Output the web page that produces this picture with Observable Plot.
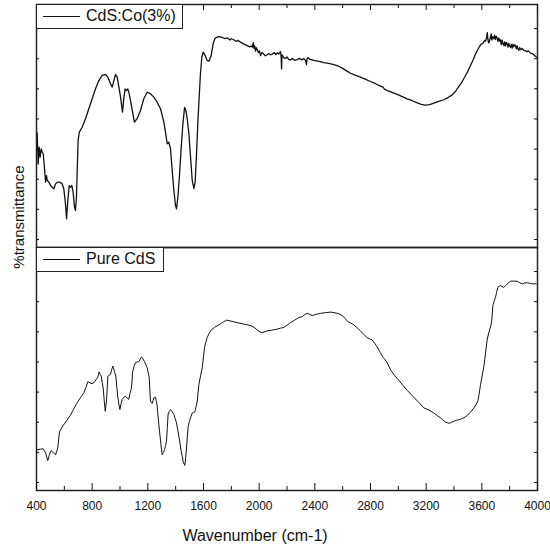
<!DOCTYPE html>
<html><head><meta charset="utf-8">
<script src="https://cdn.jsdelivr.net/npm/d3@7"></script>
<script src="https://cdn.jsdelivr.net/npm/@observablehq/plot@0.6"></script>
<style>
body{margin:0;background:#fff;}
#wrap{position:relative;width:550px;height:548px;font-family:"Liberation Sans",Arial,sans-serif;color:#111;}
.leg{position:absolute;left:36px;height:25px;box-sizing:border-box;border:1px solid #222;background:#fff;font-size:16px;}
.leg .ln{position:absolute;left:6px;top:11px;width:37px;border-top:1px solid #111;}
.leg .tx{position:absolute;left:49px;top:1px;white-space:nowrap;line-height:20px;}
#ylab{position:absolute;left:18px;top:217px;transform:translate(-50%,-50%) rotate(-90deg);font-size:15px;white-space:nowrap;}
#xlab{position:absolute;left:255px;top:526px;transform:translateX(-50%);font-size:16px;line-height:20px;white-space:nowrap;}
</style></head>
<body>
<div id="wrap"></div>
<script>
const seriesNames = ["CdS:Co(3%)", "Pure CdS"];

const coWn = [400,405,412,419,426,434,441,448,457,465,472,477,489,501,513,525,537,549,568,584,596,608,616,625,635,644,654,663,673,680,687,699,707,728,752,776,800,824,848,872,896,913,932,944,956,968,980,992,1004,1018,1028,1037,1047,1056,1066,1080,1095,1104,1123,1147,1171,1195,1219,1243,1267,1291,1315,1327,1339,1351,1363,1375,1387,1399,1406,1416,1428,1440,1452,1464,1473,1483,1495,1507,1519,1531,1540,1550,1559,1569,1578,1588,1598,1612,1626,1641,1655,1669,1681,1693,1710,1734,1752,1770,1790,1800,1818,1835,1850,1866,1880,1895,1914,1930,1945,1950,1958,1962,1968,1974,1980,1986,1995,2002,2010,2020,2034,2045,2058,2070,2082,2094,2110,2120,2130,2140,2153,2158,2161,2164,2168,2178,2189,2200,2212,2225,2240,2255,2273,2290,2305,2321,2333,2340,2344,2350,2365,2393,2430,2465,2500,2537,2570,2597,2625,2656,2690,2728,2765,2800,2836,2872,2890,2900,2920,2955,2992,3028,3064,3100,3136,3165,3195,3225,3255,3290,3327,3360,3387,3410,3435,3460,3483,3500,3519,3537,3555,3572,3591,3610,3620,3627,3634,3639,3644,3648,3653,3660,3667,3672,3678,3686,3692,3698,3704,3710,3716,3722,3728,3734,3740,3746,3752,3758,3764,3770,3776,3782,3788,3794,3800,3806,3812,3818,3824,3830,3836,3842,3848,3854,3860,3866,3872,3880,3890,3902,3915,3925,3935,3950,3965,3975,3986,4000];
const coT = [47.5,46.8,34.4,41.3,37.2,40.6,39.2,38.6,33.0,26.9,29.6,27.6,26.9,25.5,24.8,24.2,26.2,26.9,26.9,26.2,24.2,18.0,11.8,19.3,25.5,24.8,25.5,22.8,16.6,15.2,20.7,44.0,47.4,49.5,53.0,57.1,61.2,65.3,68.7,70.8,71.2,70.1,67.4,66.0,68.7,71.2,70.1,66.0,61.9,55.7,61.9,65.3,64.6,65.3,63.3,59.1,54.3,51.6,53.0,56.4,61.2,63.9,63.3,61.9,59.8,57.1,51.6,47.4,42.7,43.3,40.6,31.7,23.5,17.3,15.9,20.7,30.3,41.3,50.9,57.7,56.4,53.0,46.8,37.2,27.6,24.2,26.9,38.6,50.9,61.9,71.5,78.3,80.4,79.0,77.0,76.7,79.0,83.8,85.9,86.5,86.8,86.5,86.0,86.3,85.4,85.9,85.5,84.8,85.2,84.5,84.0,83.6,83.1,82.6,82.9,82.4,84.3,82.0,83.0,80.8,82.2,81.5,80.2,80.9,79.0,80.2,79.5,78.9,79.3,79.8,79.3,79.6,80.2,79.4,80.1,79.6,80.6,78.5,73.5,79.3,79.0,78.0,77.8,78.4,77.4,77.2,77.8,77.0,77.3,77.9,77.2,77.7,77.0,75.3,77.6,78.2,77.4,77.0,76.6,76.1,75.8,75.3,74.6,73.8,72.8,71.7,70.9,70.1,69.2,68.3,67.4,66.4,66.0,65.2,64.6,63.8,63.0,62.1,61.2,60.4,59.5,58.9,58.6,58.8,59.4,60.1,60.8,61.8,62.8,64.2,66.3,68.4,70.8,72.6,74.9,77.2,79.7,81.6,83.4,84.2,85.2,84.9,86.3,88.4,85.5,84.2,84.5,86.0,87.9,85.4,86.8,85.9,87.4,85.6,86.9,86.3,84.8,86.2,84.9,85.5,83.5,85.3,83.8,83.1,84.6,82.9,84.4,83.8,82.5,84.0,82.9,82.4,83.6,82.1,83.7,82.6,83.4,83.1,81.8,83.0,81.6,81.1,82.3,81.4,81.9,81.1,80.9,80.6,80.9,80.0,79.7,79.2,78.6,78.3];

const pureWn = [400,405,430,448,465,481,493,505,520,537,553,565,580,596,620,644,668,692,716,740,755,769,785,800,815,829,840,850,857,865,872,879,887,894,903,908,913,922,932,940,949,960,970,978,985,992,999,1008,1016,1028,1040,1052,1063,1072,1080,1086,1090,1100,1111,1125,1135,1145,1155,1165,1176,1185,1195,1203,1210,1215,1219,1225,1231,1237,1243,1255,1262,1267,1275,1284,1293,1303,1312,1320,1327,1334,1340,1346,1355,1363,1375,1387,1397,1406,1415,1423,1432,1440,1447,1454,1460,1466,1472,1478,1484,1490,1498,1507,1519,1528,1538,1547,1555,1561,1567,1580,1591,1600,1607,1617,1626,1640,1655,1680,1710,1738,1765,1790,1818,1855,1890,1920,1950,1968,1986,2005,2022,2040,2058,2082,2110,2130,2153,2177,2200,2225,2255,2285,2309,2327,2345,2363,2381,2410,2441,2477,2513,2537,2561,2580,2597,2617,2637,2658,2680,2705,2728,2752,2776,2795,2812,2830,2848,2870,2891,2905,2920,2935,2949,2975,3004,3034,3064,3094,3124,3154,3183,3220,3255,3280,3303,3320,3339,3355,3370,3385,3399,3418,3435,3453,3471,3490,3507,3525,3543,3558,3571,3580,3591,3603,3615,3621,3627,3633,3639,3648,3658,3664,3670,3675,3679,3688,3698,3706,3715,3724,3734,3745,3758,3772,3787,3806,3830,3854,3872,3890,3908,3926,3950,3974,3990];
const pureT = [17.0,16.8,17.0,17.2,15.5,12.3,14.8,16.4,15.6,14.7,17.5,24.1,25.7,27.1,29.0,31.0,33.6,36.1,38.2,40.2,42.3,44.8,44.3,43.9,44.5,45.7,46.6,48.8,47.8,47.1,44.5,42.3,36.8,32.6,36.8,42.0,47.1,47.4,47.8,49.8,51.2,49.0,47.1,42.0,38.1,35.5,33.3,35.8,37.5,38.4,38.8,38.0,37.5,40.0,41.6,44.5,48.5,51.0,52.6,52.9,53.0,54.0,55.0,54.2,53.0,51.8,50.5,48.5,46.4,41.0,36.8,36.2,35.8,37.0,38.1,38.4,36.5,34.7,29.5,24.4,19.5,14.7,15.7,16.8,18.5,20.2,26.0,31.5,32.6,33.3,32.4,31.3,29.6,27.8,25.0,22.3,19.1,16.1,14.0,12.0,11.0,10.3,13.5,17.5,22.0,26.4,28.3,29.9,31.9,32.2,32.4,34.5,36.8,40.2,43.7,47.5,50.5,55.0,58.8,61.0,62.9,64.6,66.0,67.2,68.1,69.2,70.1,69.8,69.4,68.9,68.5,68.1,67.6,67.0,66.0,65.3,65.0,65.3,65.7,65.9,66.2,66.4,66.8,67.1,68.0,69.1,70.1,71.2,71.5,72.4,72.9,72.5,72.0,72.5,72.9,73.2,73.4,73.2,72.9,72.5,72.0,70.8,69.5,68.9,68.2,66.9,65.7,64.2,62.9,62.4,62.0,60.6,59.1,56.8,54.7,53.8,52.6,50.8,49.2,47.2,45.3,43.2,41.2,39.4,37.6,35.8,34.0,33.1,31.9,30.8,29.9,29.0,28.1,27.8,27.7,28.2,28.5,28.9,29.1,29.5,29.9,30.7,31.5,32.7,34.0,35.3,36.8,39.5,43.7,47.5,51.2,54.0,56.7,59.5,62.3,64.4,66.4,67.8,69.1,72.5,76.0,77.8,79.5,81.5,83.6,84.1,84.3,83.9,83.6,84.4,85.2,86.1,86.2,86.1,85.5,85.0,85.4,85.5,85.2,85.0,85.1];

const xMajorTicks = [400,800,1200,1600,2000,2400,2800,3200,3600,4000];
const xMinorTicks = [600,1000,1400,1800,2200,2600,3000,3400,3800];
const yTicks = [3.3,15.7,28.1,40.5,52.9,65.3,77.7,90.1];
const xTitle = "Wavenumber (cm-1)";
const yTitle = "%transmittance";

const coRows = coWn.map((w, i) => ({series: seriesNames[0], wn: w, t: coT[i]}));
const pureRows = pureWn.map((w, i) => ({series: seriesNames[1], wn: w, t: pureT[i]}));
const blank = () => "";

const chart = Plot.plot({
  width: 550,
  height: 548,
  marginTop: 4,
  marginBottom: 58,
  marginLeft: 36,
  marginRight: 13,
  style: {fontFamily: "'Liberation Sans', Arial, sans-serif", fontSize: "12px", color: "#111", background: "#fff", overflow: "visible"},
  x: {domain: [400, 4000]},
  y: {domain: [0, 100]},
  fy: {domain: seriesNames, axis: null, padding: 0, label: null},
  marks: [
    Plot.line(coRows, {x: "wn", y: "t", fy: "series", stroke: "#111", strokeWidth: 1.3}),
    Plot.line(pureRows, {x: "wn", y: "t", fy: "series", stroke: "#111", strokeWidth: 1}),
    Plot.frame({stroke: "#222", strokeWidth: 1.5}),
    Plot.axisX(xMajorTicks, {anchor: "bottom", tickSize: -7, tickPadding: 18, fontSize: 12, tickFormat: d => String(d), label: null}),
    Plot.axisX(xMinorTicks, {anchor: "bottom", tickSize: -4, tickFormat: blank, label: null}),
    Plot.axisX(xMajorTicks, {anchor: "top", tickSize: -5, tickFormat: blank, label: null}),
    Plot.axisX(xMinorTicks, {anchor: "top", tickSize: -3, tickFormat: blank, label: null}),
    Plot.axisY(yTicks, {anchor: "left", tickSize: -3, tickFormat: blank, label: null}),
    Plot.axisY(yTicks, {anchor: "right", tickSize: -4, tickFormat: blank, label: null})
  ]
});

const wrap = document.getElementById("wrap");
wrap.appendChild(chart);

function addLegend(name, top, width) {
  const d = document.createElement("div");
  d.className = "leg";
  d.style.top = top + "px";
  d.style.width = width + "px";
  const ln = document.createElement("div"); ln.className = "ln";
  const tx = document.createElement("div"); tx.className = "tx"; tx.textContent = name;
  d.appendChild(ln); d.appendChild(tx);
  wrap.appendChild(d);
}
addLegend(seriesNames[0], 4, 147);
addLegend(seriesNames[1], 247, 128);

const yl = document.createElement("div"); yl.id = "ylab"; yl.textContent = yTitle; wrap.appendChild(yl);
const xl = document.createElement("div"); xl.id = "xlab"; xl.textContent = xTitle; wrap.appendChild(xl);
</script>
</body></html>
